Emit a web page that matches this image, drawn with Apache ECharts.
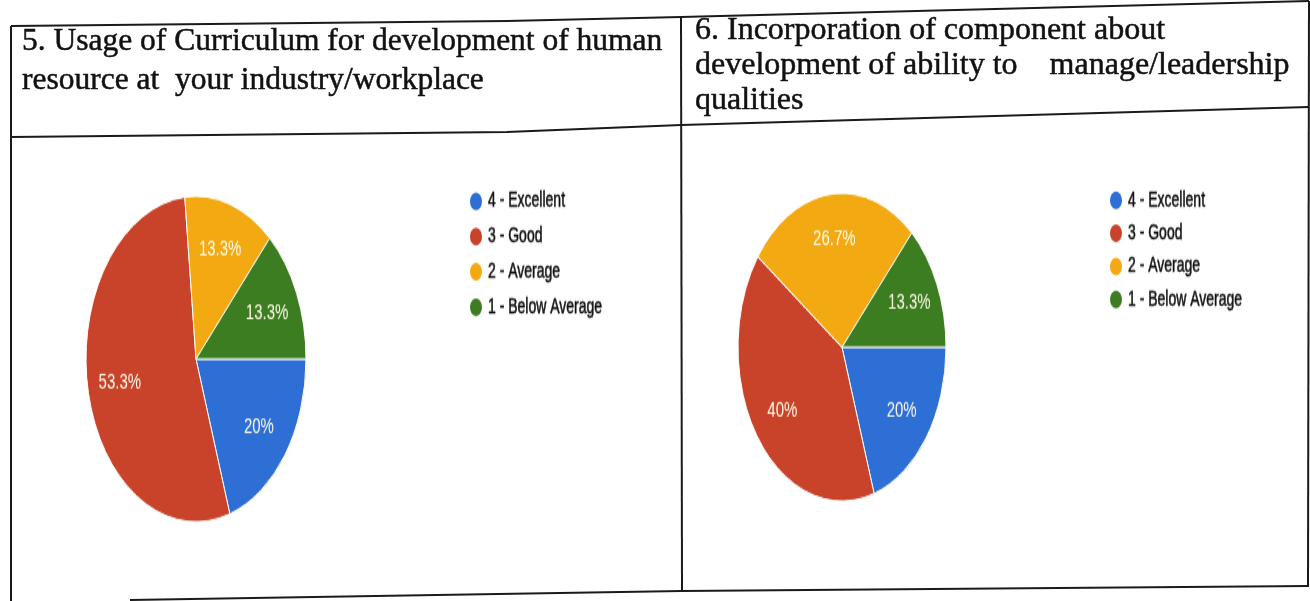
<!DOCTYPE html>
<html>
<head>
<meta charset="utf-8">
<script src="https://cdn.jsdelivr.net/npm/echarts@6/dist/echarts.min.js"></script>
<style>
  html, body { margin: 0; padding: 0; background: #fff; }
  #page { position: absolute; left: 0; top: 0; width: 1310px; height: 601px; }
  .cell { position: absolute; transform: scaleY(1.48); transform-origin: 0 0; }
  #pie1 { left: 0; top: 140px; width: 680px; height: 311px; }
  #pie2 { left: 683px; top: 140px; width: 625px; height: 311px; }
</style>
</head>
<body>
<div id="page"></div>
<div id="pie1" class="cell"></div>
<div id="pie2" class="cell"></div>
<script>
// survey answers, same categories in both questions
var categories = ['4 - Excellent', '3 - Good', '2 - Average', '1 - Below Average'];
var colors = ['#2d6fd4', '#c8432a', '#f2a912', '#3d7d22'];
var q5Values = [20, 53.3, 13.3, 13.3];
var q6Values = [20, 40, 26.7, 13.3];
var q5Title = ['5. Usage of Curriculum for development of human', 'resource at  your industry/workplace'];
var q6Title = ['6. Incorporation of component about', 'development of ability to    manage/leadership', 'qualities'];

// table frame + question texts
var page = echarts.init(document.getElementById('page'));
var lineStyle = { stroke: '#1a1a1a', lineWidth: 2 };
function poly(points) {
  return { type: 'polyline', shape: { points: points }, style: lineStyle, silent: true };
}
function textLines(lines, x, y, gap, size) {
  return lines.map(function (t, i) {
    return {
      type: 'text', x: x, y: y + i * gap,
      style: {
        text: t, font: size + 'px "Liberation Serif"', fill: '#111',
        stroke: '#111', lineWidth: 0.5, textVerticalAlign: 'middle'
      }
    };
  });
}
page.setOption({
  backgroundColor: '#fff',
  graphic: [
    poly([[11, 26], [507, 21], [681, 17], [1309, 1]]),
    poly([[11, 137], [507, 132], [681, 125], [1309, 107]]),
    poly([[130, 600], [682, 591], [1309, 586]]),
    poly([[11, 26], [11, 601]]),
    poly([[681, 17], [682, 591]]),
    poly([[1309, 1], [1308, 586]])
  ].concat(textLines(q5Title, 22, 42, 39, 31.5)).concat(textLines(q6Title, 695, 31, 35, 32))
});

function makeData(values) {
  return categories.map(function (c, i) {
    return { name: c, value: values[i], itemStyle: { color: colors[i] } };
  });
}

function pieOption(values, center, radius, legendLeft, legendTop, legendGap) {
  return {
    animation: false,
    legend: {
      orient: 'vertical',
      left: legendLeft,
      top: legendTop,
      itemGap: legendGap,
      icon: 'circle',
      itemWidth: 14,
      itemHeight: 14,
      textStyle: {
        fontFamily: 'Liberation Sans', fontSize: 14, color: '#111',
        textBorderColor: '#111', textBorderWidth: 0.4
      },
      data: categories
    },
    series: [
      {
        type: 'pie',
        center: center,
        radius: [0, radius],
        startAngle: 0,
        clockwise: true,
        itemStyle: { borderColor: '#fff', borderWidth: 1 },
        label: { show: false },
        labelLine: { show: false },
        data: makeData(values)
      },
      {
        // label-only ring so the percentages sit ~0.68 r out like the original
        type: 'pie',
        center: center,
        radius: [radius * 0.36, radius],
        startAngle: 0,
        clockwise: true,
        silent: true,
        itemStyle: { color: 'rgba(0,0,0,0)' },
        label: {
          show: true,
          position: 'inside',
          formatter: function (p) { return p.value + '%'; },
          color: '#fffbe8',
          fontFamily: 'Liberation Sans',
          fontSize: 15
        },
        labelLine: { show: false },
        data: categories.map(function (c, i) { return { name: c, value: values[i] }; })
      }
    ]
  };
}

var pie1 = echarts.init(document.getElementById('pie1'));
pie1.setOption(pieOption(q5Values, [196, 148], 110, 463, 28.5, 7.8));
var pie2 = echarts.init(document.getElementById('pie2'));
pie2.setOption(pieOption(q6Values, [159, 140], 104, 420, 27.8, 6.3));
</script>
</body>
</html>
